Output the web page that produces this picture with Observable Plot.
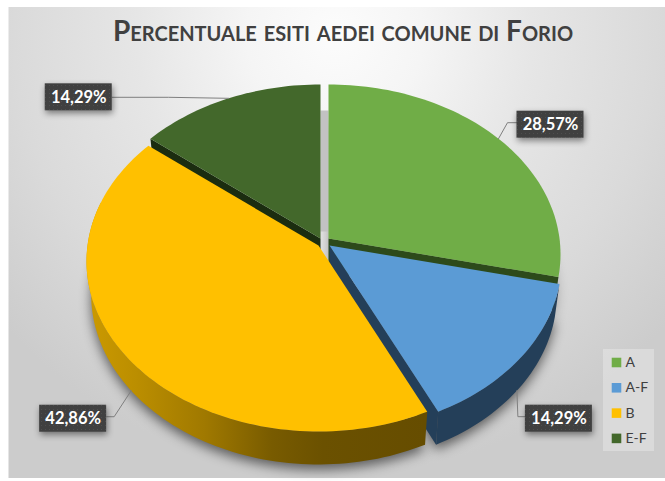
<!DOCTYPE html>
<html>
<head>
<meta charset="utf-8">
<script src="https://cdn.jsdelivr.net/npm/d3@7"></script>
<script src="https://cdn.jsdelivr.net/npm/@observablehq/plot@0.6"></script>
<style>
html,body{margin:0;padding:0;background:#fff}
svg{display:block}
</style>
</head>
<body>
<div id="chart"></div>
<script>
// ---- data ----
const titleText = "Percentuale esiti aedei comune di Forio";
const categories = ["A", "A-F", "B", "E-F"];
const values = [28.57, 14.29, 42.86, 14.29];
const labels = ["28,57%", "14,29%", "42,86%", "14,29%"];

// ---- styles ----
const topColors = ["#70ad47", "#5b9bd5", "#ffc000", "#43682b"];
const cutColors = ["#2d4a1b", "#243f59", "#6b5000", "#1b2d10"];

// ---- layout of the tilted pie ----
const W = 665, H = 481;
const Rx = 231, Ry = 170, persp = 0.094, depth = 33, baseShrink = 0.98;
const apexX = [328, 329, 318, 320], apexY = [238, 245, 245, 238];
const boxW = 67, boxH = 27;
const boxDx = [52, 42, -58, -150], boxDy = [-14, 28, 28, -1];
const elbowDx = [9, 1, -17, -60], elbowDy = [-16, 26, 26, -1];

const toRad = Math.PI / 180;
const arcs = d3.pie().sort(null)(values);

function proj(i, angle, base) {
  const u = Math.sin(angle), v = -Math.cos(angle), s = 1 + persp * v;
  return {
    x: apexX[i] + Rx * u * s * (base ? baseShrink : 1),
    y: apexY[i] + Ry * v * s + (base ? depth : 0)
  };
}
function apex(i, base) {
  return {x: apexX[i], y: apexY[i] + (base ? depth : 0)};
}
function rim(i, a0, a1, base) {
  const n = Math.max(2, Math.ceil(Math.abs(a1 - a0) / (1.5 * toRad)));
  return d3.range(n + 1).map(k => proj(i, a0 + (a1 - a0) * k / n, base));
}
function topFace(i) {
  return [apex(i), ...rim(i, arcs[i].startAngle, arcs[i].endAngle)];
}
function baseFace(i) {
  return [apex(i, true), ...rim(i, arcs[i].startAngle, arcs[i].endAngle, true)];
}
function band(i, a0, a1) {
  return [...rim(i, a0, a1), ...rim(i, a0, a1, true).reverse()];
}
function cut(i, a) {
  return [apex(i), proj(i, a), proj(i, a, true), apex(i, true)];
}
function poly(points, fill, opts = {}) {
  return Plot.line(points, {x: "x", y: "y", fill, stroke: "none", ...opts});
}

const shadowOpts = {fillOpacity: 0.55, imageFilter: "blur(6px)", dy: 5};

const rows = labels.map((label, i) => {
  const mid = (arcs[i].startAngle + arcs[i].endAngle) / 2;
  const front = -Math.cos(mid) > 0;
  const a = proj(i, mid, front);
  const cx = a.x + boxDx[i], cy = a.y + boxDy[i];
  const ex = a.x + elbowDx[i], ey = a.y + elbowDy[i];
  const side = boxDx[i] > 0 ? cx - boxW / 2 : cx + boxW / 2;
  return {label, cx, cy, leader: [a, {x: ex, y: ey}, {x: side, y: ey}],
          x1: cx - boxW / 2, x2: cx + boxW / 2, y1: cy - boxH / 2, y2: cy + boxH / 2};
});

const legendRows = categories.map((name, i) => ({
  name, color: topColors[i], x: 616, tx: 625, y: 362 + i * 25.3
}));

const a285 = 285 * toRad;

const chart = Plot.plot({
  width: W, height: H,
  margin: 0,
  x: {domain: [0, W], range: [0, W], axis: null},
  y: {domain: [0, H], range: [0, H], axis: null},
  style: {background: "#fff", fontFamily: "Lato, sans-serif"},
  marks: [
    // backdrop
    Plot.rect([{x1: 8.5, x2: W, y1: 7, y2: 478}], {x1: "x1", x2: "x2", y1: "y1", y2: "y2", fill: "url(#bg)"}),
    // soft shadow below the pie
    poly(baseFace(2), "#000", shadowOpts),
    poly(baseFace(1), "#000", shadowOpts),
    poly(baseFace(0), "#000", {...shadowOpts, fillOpacity: 0.3}),
    // inner wall seen through the gap between A and E-F
    poly([proj(0, 0, true), proj(3, 0, true), apex(3), apex(0)], "#c2c2c2", {dy: -7}),
    // far slices
    poly(cut(3, arcs[3].startAngle), cutColors[3]),
    poly(topFace(3), topColors[3]),
    poly(cut(0, arcs[0].endAngle), cutColors[0]),
    poly(topFace(0), topColors[0]),
    // near slices
    poly(band(1, arcs[1].startAngle, arcs[1].endAngle), cutColors[1]),
    poly(cut(1, arcs[1].endAngle), cutColors[1]),
    poly(topFace(1), topColors[1]),
    poly(band(2, arcs[2].startAngle, a285), "url(#yellowSide)"),
    poly(topFace(2), topColors[2]),
    // title
    Plot.text([titleText], {
      x: () => 342.5, y: () => 32, text: d => d,
      fontFamily: "Lato, sans-serif", fontSize: 28, fontWeight: 700, fontVariant: "small-caps",
      fill: "#404040", textAnchor: "middle", lineAnchor: "middle"
    }),
    // data-label leaders and boxes
    ...rows.map(r => Plot.line(r.leader, {x: "x", y: "y", stroke: "#7f7f7f", strokeWidth: 1})),
    Plot.rect(rows, {
      x1: "x1", x2: "x2", y1: "y1", y2: "y2", fill: "url(#dots)",
      imageFilter: "drop-shadow(1px 3px 3px rgba(0,0,0,.45))"
    }),
    Plot.text(rows, {
      x: "cx", y: "cy", text: "label", fill: "#fff", fontSize: 16.5, fontWeight: 700,
      fontFamily: "Lato, sans-serif", lineAnchor: "middle"
    }),
    // legend
    Plot.rect([{x1: 603, x2: 654, y1: 349, y2: 451}], {x1: "x1", x2: "x2", y1: "y1", y2: "y2", fill: "#fff", fillOpacity: 0.28}),
    Plot.dot(legendRows, {x: "x", y: "y", symbol: "square", r: 5.4, fill: "color", stroke: "none"}),
    Plot.text(legendRows, {
      x: "tx", y: "y", text: "name", fill: "#404040", fontSize: 14, textAnchor: "start",
      fontFamily: "Lato, sans-serif", lineAnchor: "middle"
    })
  ],
  color: {type: "identity"}
});

// gradients and the dotted box pattern used by the marks above
const ns = "http://www.w3.org/2000/svg";
const holder = document.createElementNS(ns, "defs");
holder.innerHTML = `
  <radialGradient id="bg" gradientUnits="userSpaceOnUse" cx="335" cy="35" r="440">
    <stop offset="0" stop-color="#fcfcfc"/>
    <stop offset="0.2" stop-color="#f5f5f5"/>
    <stop offset="0.45" stop-color="#e6e6e6"/>
    <stop offset="0.73" stop-color="#dadada"/>
    <stop offset="1" stop-color="#cccccc"/>
  </radialGradient>
  <linearGradient id="yellowSide" gradientUnits="userSpaceOnUse" x1="85" y1="0" x2="425" y2="0">
    <stop offset="0" stop-color="#cc9a00"/>
    <stop offset="0.15" stop-color="#bb8e00"/>
    <stop offset="0.35" stop-color="#a07900"/>
    <stop offset="0.55" stop-color="#785b00"/>
    <stop offset="0.7" stop-color="#6b5100"/>
    <stop offset="1" stop-color="#664d00"/>
  </linearGradient>
  <pattern id="dots" patternUnits="userSpaceOnUse" width="4" height="4">
    <rect width="4" height="4" fill="#404040"/>
    <rect x="1" y="1" width="1" height="1" fill="#4e4e4e"/>
  </pattern>`;
chart.insertBefore(holder, chart.firstChild);
document.getElementById("chart").append(chart);
</script>
</body>
</html>
